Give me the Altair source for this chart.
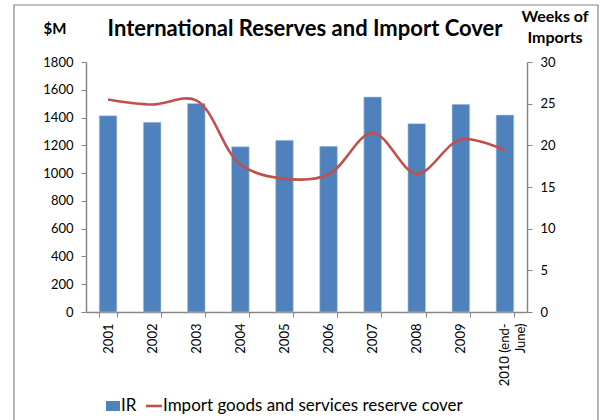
import altair as alt
import pandas as pd

years = ["2001", "2002", "2003", "2004", "2005", "2006", "2007", "2008", "2009", "2010 (end-June)"]
ir = [1413, 1366, 1502, 1190, 1236, 1193, 1548, 1356, 1495, 1418]
cover = [25.5, 24.9, 25.4, 17.7, 16.0, 16.5, 21.5, 16.6, 20.7, 19.4]

df = pd.DataFrame({"year": years, "IR": ir, "cover": cover})

FONT = "Lato"
GREY = "#868686"

xenc = alt.X(
    "year:N",
    sort=years,
    scale=alt.Scale(paddingInner=0.6, paddingOuter=0.3),
    axis=alt.Axis(
        title=None,
        labelAngle=-90,
        labelAlign="right",
        labelBaseline="middle",
        labelFontSize=13,
        labelFont=FONT,
        labelColor="black",
        labelPadding=6,
        labelLineHeight=16,
        labelExpr="datum.value == '2010 (end-June)' ? ['2010 (end-', 'June)'] : datum.value",
        tickBand="extent",
        tickColor=GREY,
        tickSize=5,
        domainColor=GREY,
        domainWidth=1.5,
    ),
)

bars = alt.Chart(df).mark_bar(color="#4F81BD", stroke="#B9CDE5", strokeWidth=0.6).encode(
    x=xenc,
    y=alt.Y(
        "IR:Q",
        scale=alt.Scale(domain=[0, 1800]),
        axis=alt.Axis(
            title=None,
            values=list(range(0, 1801, 200)),
            format="d",
            labelFontSize=13,
            labelFont=FONT,
            labelColor="black",
            labelPadding=8,
            grid=False,
            tickColor=GREY,
            tickSize=5,
            domainColor=GREY,
            domainWidth=1.5,
        ),
    ),
)

line = alt.Chart(df).mark_line(color="#C0504D", strokeWidth=2.6, interpolate="catmull-rom").encode(
    x=alt.X("year:N", sort=years),
    y=alt.Y(
        "cover:Q",
        scale=alt.Scale(domain=[0, 30]),
        axis=alt.Axis(
            title=None,
            orient="right",
            values=[0, 5, 10, 15, 20, 25, 30],
            format="d",
            labelFontSize=13,
            labelFont=FONT,
            labelColor="black",
            labelPadding=8,
            grid=False,
            tickColor=GREY,
            tickSize=5,
            domainColor=GREY,
            domainWidth=1.5,
        ),
    ),
)

one = pd.DataFrame({"a": [0]})

border = alt.Chart(one).mark_rect(fill=None, stroke=GREY, strokeWidth=1.2).encode(
    x=alt.value(-72), x2=alt.value(512), y=alt.value(-57), y2=alt.value(370)
)

title = alt.Chart(one).mark_text(font=FONT, fontSize=22, fontWeight="bold", color="black").encode(
    x=alt.value(219), y=alt.value(-33), text=alt.value("International Reserves and Import Cover")
)
lefttitle = alt.Chart(one).mark_text(font=FONT, fontSize=15, fontWeight="bold", color="black").encode(
    x=alt.value(-31), y=alt.value(-33), text=alt.value("$M")
)
righttitle1 = alt.Chart(one).mark_text(font=FONT, fontSize=16, fontWeight="bold", color="black").encode(
    x=alt.value(469), y=alt.value(-45), text=alt.value("Weeks of")
)
righttitle2 = alt.Chart(one).mark_text(font=FONT, fontSize=16, fontWeight="bold", color="black").encode(
    x=alt.value(469), y=alt.value(-24), text=alt.value("Imports")
)

leg_box = alt.Chart(one).mark_rect(color="#4F81BD").encode(
    x=alt.value(20), x2=alt.value(34), y=alt.value(339), y2=alt.value(349)
)
leg_ir = alt.Chart(one).mark_text(font=FONT, fontSize=17, align="left", color="black").encode(
    x=alt.value(35), y=alt.value(344), text=alt.value("IR")
)
leg_line = alt.Chart(one).mark_rule(color="#C0504D", strokeWidth=2.6).encode(
    x=alt.value(60), x2=alt.value(76), y=alt.value(344)
)
leg_cov = alt.Chart(one).mark_text(font=FONT, fontSize=17, align="left", color="black").encode(
    x=alt.value(77), y=alt.value(344), text=alt.value("Import goods and services reserve cover")
)

chart = (
    alt.layer(bars, line, border, title, lefttitle, righttitle1, righttitle2,
              leg_box, leg_ir, leg_line, leg_cov)
    .resolve_scale(y="independent")
    .properties(
        width=441,
        height=250,
        autosize=alt.AutoSizeParams(type="none"),
        padding={"left": 86, "top": 62, "right": 73, "bottom": 108},
        background="white",
    )
    .configure_view(stroke=None)
)

chart.save("out.html", embed_options={"renderer": "svg", "actions": False})
